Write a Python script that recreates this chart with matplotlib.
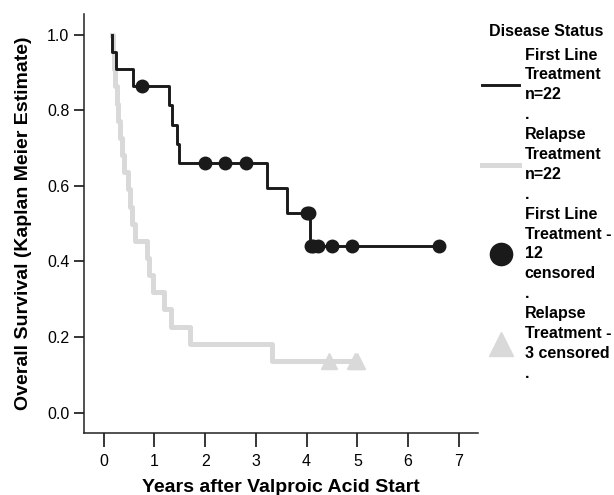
import matplotlib
matplotlib.use('Agg')
import matplotlib.pyplot as plt
from matplotlib.lines import Line2D

plt.rcParams['font.family'] = ['Liberation Sans', 'DejaVu Sans']

# First line treatment: step times (years) and survival after each step
first_t = [0.16, 0.17, 0.24, 0.58, 1.29, 1.34, 1.44, 1.48, 3.21, 3.61, 4.07, 6.61]
first_s = [1.0, 0.955, 0.909, 0.864, 0.814, 0.761, 0.711, 0.660, 0.595, 0.529, 0.440, 0.440]
first_cens_t = [0.75, 2.0, 2.39, 2.8, 4.0, 4.04, 4.08, 4.13, 4.22, 4.5, 4.9, 6.61]
first_cens_s = [0.864, 0.660, 0.660, 0.660, 0.529, 0.529, 0.440, 0.440, 0.440, 0.440, 0.440, 0.440]

# Relapse treatment
relapse_t = [0.16, 0.18, 0.20, 0.23, 0.26, 0.29, 0.32, 0.35, 0.40, 0.47, 0.52, 0.56, 0.62,
             0.86, 0.90, 0.98, 1.19, 1.32, 1.70, 3.31, 4.99]
relapse_s = [1.0, 0.955, 0.909, 0.864, 0.818, 0.773, 0.727, 0.682, 0.636, 0.591, 0.545, 0.5, 0.455,
             0.409, 0.364, 0.318, 0.273, 0.227, 0.182, 0.136, 0.136]
relapse_cens_t = [4.45, 4.96, 5.0]
relapse_cens_s = [0.136, 0.136, 0.136]

black = '#1a1a1a'
grey = '#d9d9d9'

fig = plt.figure(figsize=(6.14, 4.95), dpi=100)
ax = fig.add_axes([0.1368, 0.1253, 0.6417, 0.8464])

ax.step(relapse_t, relapse_s, where='post', color=grey, lw=3.6, zorder=2)
ax.step(first_t, first_s, where='post', color=black, lw=2.1, zorder=3)
ax.plot(first_cens_t, first_cens_s, 'o', color=black, ms=9, zorder=4)
ax.plot(relapse_cens_t, relapse_cens_s, '^', color=grey, ms=11, zorder=4)

ax.set_xlim(-0.39, 7.38)
ax.set_ylim(-0.054, 1.055)
ax.set_xticks(range(8))
ax.set_yticks([0.0, 0.2, 0.4, 0.6, 0.8, 1.0])
ax.set_yticklabels(['0.0', '0.2', '0.4', '0.6', '0.8', '1.0'])
for s in ['top', 'right']:
    ax.spines[s].set_visible(False)
for s in ['left', 'bottom']:
    ax.spines[s].set_linewidth(1.1)
    ax.spines[s].set_color('#222222')
ax.tick_params(axis='y', length=7, width=1.1, pad=3.5, labelsize=11.5)
ax.tick_params(axis='x', length=10, width=1.1, pad=5, labelsize=11.5)

ax.set_xlabel('Years after Valproic Acid Start', fontsize=14, fontweight='bold', labelpad=7)
ax.set_ylabel('Overall Survival (Kaplan Meier Estimate)', fontsize=14, fontweight='bold', labelpad=11)

handles = [
    Line2D([], [], color=black, lw=2.1),
    Line2D([], [], color=grey, lw=3.6),
    Line2D([], [], color=black, marker='o', ls='none', ms=16),
    Line2D([], [], color=grey, marker='^', ls='none', ms=17),
]
labels = ['First Line\nTreatment\nn=22\n.',
          'Relapse\nTreatment\nn=22\n.',
          'First Line\nTreatment -\n12\ncensored\n.',
          'Relapse\nTreatment -\n3 censored\n.']
leg = fig.legend(handles, labels, title='Disease Status', loc='upper left',
                 bbox_to_anchor=(0.775, 0.964), frameon=False,
                 prop={'weight': 'bold', 'size': 11.5},
                 title_fontproperties={'weight': 'bold', 'size': 11.5},
                 handlelength=2.3, handletextpad=0.35, labelspacing=0.33,
                 borderaxespad=0)
for t in leg.get_texts():
    t.set_linespacing(1.4)
# a bit more room under the legend title
leg._legend_box.sep = 6

fig.savefig('out.png', dpi=100)
